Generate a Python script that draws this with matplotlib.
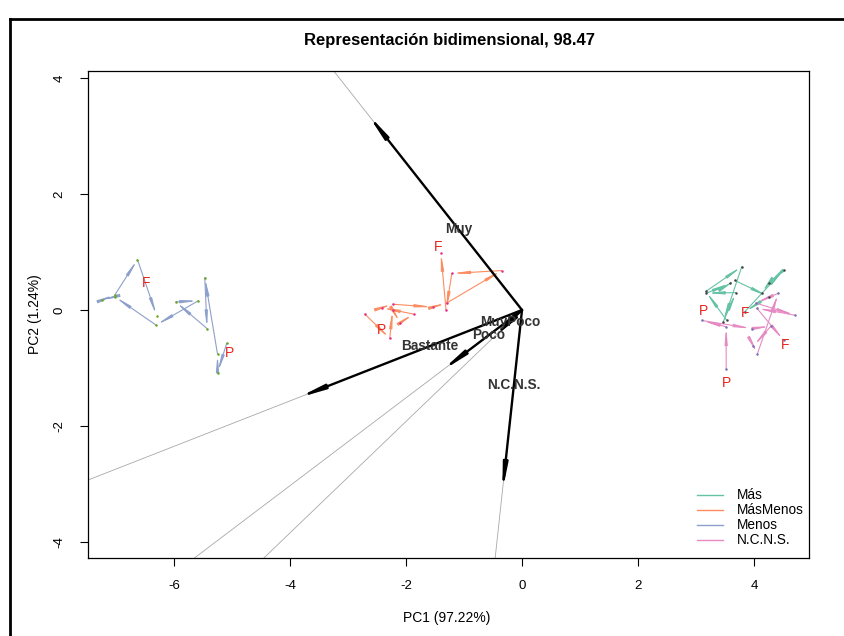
import matplotlib
matplotlib.use('Agg')
import matplotlib.pyplot as plt
from matplotlib.lines import Line2D

plt.rcParams['font.family'] = ['Liberation Sans', 'DejaVu Sans']
plt.rcParams['axes.unicode_minus'] = False

# ---------------- data ----------------
groups = ['Más', 'MásMenos', 'Menos', 'N.C.N.S.']
line_colors = ['#66C2A5', '#FC8D62', '#8DA0CB', '#E78AC3']
dot_colors = ['#444444', '#E7298A', '#66A61E', '#7570B3']

mas_x = [3.53, 3.17, 3.79, 3.47, 3.69, 3.18, 3.59, 3.67, 4.25, 3.84, 4.51, 4.26, 4.13]
mas_y = [-0.18, 0.32, 0.75, -0.20, 0.30, 0.29, 0.46, 0.51, 0.23, -0.03, 0.69, 0.47, 0.29]

masmenos_x = [-2.71, -2.28, -2.23, -2.10, -1.87, -2.42, -2.23, -1.54, -1.30, -0.35, -1.21, -1.31, -1.40]
masmenos_y = [-0.07, -0.49, 0.00, -0.22, -0.07, 0.04, 0.10, 0.05, 0.12, 0.68, 0.63, 0.00, 0.99]

menos_x = [-5.09, -5.25, -5.25, -5.47, -5.43, -5.97, -5.58, -6.31, -7.02, -7.25, -7.02, -6.63, -6.30]
menos_y = [-0.57, -1.08, -0.76, 0.56, -0.32, 0.14, 0.16, -0.26, 0.23, 0.17, 0.26, 0.87, -0.10]

ncns_x = [3.52, 3.52, 3.10, 3.96, 4.29, 3.99, 4.06, 4.42, 4.03, 4.71, 4.05, 4.51]
ncns_y = [-1.01, -0.29, -0.18, -0.32, -0.28, -0.62, -0.75, 0.29, 0.12, -0.09, 0.03, -0.52]

traj_x = [mas_x, masmenos_x, menos_x, ncns_x]
traj_y = [mas_y, masmenos_y, menos_y, ncns_y]

# start / end labels
lab_text = ['F', 'P', 'F', 'P', 'P', 'F', 'F', 'P']
lab_x = [-6.48, -5.05, -1.45, -2.42, 3.13, 3.84, 4.53, 3.53]
lab_y = [0.47, -0.74, 1.09, -0.34, -0.01, -0.05, -0.60, -1.25]

# variable vectors
var_names = ['Muy', 'Bastante', 'Poco', 'MuyPoco', 'N.C.N.S.']
var_x = [-2.67, -3.88, -1.40, -0.51, -0.34]
var_y = [3.39, -1.52, -1.06, -0.49, -3.14]

title = 'Representación bidimensional, 98.47'
xlabel = 'PC1 (97.22%)'
ylabel = 'PC2 (1.24%)'
xticks = [-6, -4, -2, 0, 2, 4]
yticks = [-4, -2, 0, 2, 4]

# ---------------- figure ----------------
W, H = 844, 636
fig = plt.figure(figsize=(W / 100, H / 100), dpi=100)
ax = fig.add_axes([88 / W, 1 - 558 / H, (809 - 88) / W, (558 - 71) / H])
xmin, xmax = -7.483, 4.948
ymin, ymax = -4.276, 4.121
ax.set_xlim(xmin, xmax)
ax.set_ylim(ymin, ymax)

# grey extension lines of the vectors
for vx, vy in zip(var_x, var_y):
    tx = (xmax / vx) if vx > 0 else (xmin / vx)
    ty = (ymax / vy) if vy > 0 else (ymin / vy)
    t = min(tx, ty)
    ax.plot([0, vx * t], [0, vy * t], color='#a8a8a8', lw=0.6, zorder=1)

# trajectories
for xs, ys, lc, dc in zip(traj_x, traj_y, line_colors, dot_colors):
    for i in range(len(xs) - 1):
        ax.annotate('', xy=(xs[i + 1], ys[i + 1]), xytext=(xs[i], ys[i]),
                    arrowprops=dict(arrowstyle='-|>,head_length=0.9,head_width=0.08',
                                    color=lc, lw=0.8, shrinkA=0, shrinkB=0),
                    zorder=2)
    ax.plot(xs, ys, 'o', color=dc, ms=1.8, mew=0, zorder=3)

for t, x, y in zip(lab_text, lab_x, lab_y):
    ax.text(x, y, t, color='#E8251E', fontsize=10, ha='center', va='center', zorder=4)

# black vectors
for name, vx, vy in zip(var_names, var_x, var_y):
    ax.annotate('', xy=(vx, vy), xytext=(0, 0),
                arrowprops=dict(arrowstyle='-|>,head_length=1.4,head_width=0.13',
                                color='black', lw=1.7, shrinkA=0, shrinkB=0),
                zorder=5)
    ax.text(0.41 * vx, 0.41 * vy, name, fontsize=9.8, fontweight='bold',
            color='#333333', ha='center', va='center', zorder=6)

# axes styling
ax.set_xticks(xticks)
ax.set_yticks(yticks)
ax.tick_params(direction='out', length=6, width=0.8, labelsize=9.5, pad=10)
for lab in ax.get_yticklabels():
    lab.set_rotation(90)
    lab.set_va('center')
for sp in ax.spines.values():
    sp.set_linewidth(0.9)

fig.text(447 / W, 1 - 618 / H, xlabel, ha='center', va='center', fontsize=10)
fig.text(35 / W, 1 - 314 / H, ylabel, ha='center', va='center', fontsize=10, rotation=90)
fig.text(450 / W, 1 - 40 / H, title, ha='center', va='center', fontsize=12, fontweight='bold')

# legend
handles = [Line2D([0], [0], color=c, lw=1.0) for c in line_colors]
fig.legend(handles, groups, loc='upper left', bbox_to_anchor=(692 / W, 1 - 483 / H),
           bbox_transform=fig.transFigure, frameon=False, fontsize=9.8,
           handlelength=1.9, handletextpad=1.0, labelspacing=0.07, borderaxespad=0)

# outer frame (left and top)
fig.add_artist(Line2D([10 / W, 10 / W], [0, 1 - 19 / H], color='black', lw=2,
                      transform=fig.transFigure))
fig.add_artist(Line2D([10 / W, 1], [1 - 19 / H, 1 - 19 / H], color='black', lw=2,
                      transform=fig.transFigure))

fig.savefig('out.png', dpi=100)
